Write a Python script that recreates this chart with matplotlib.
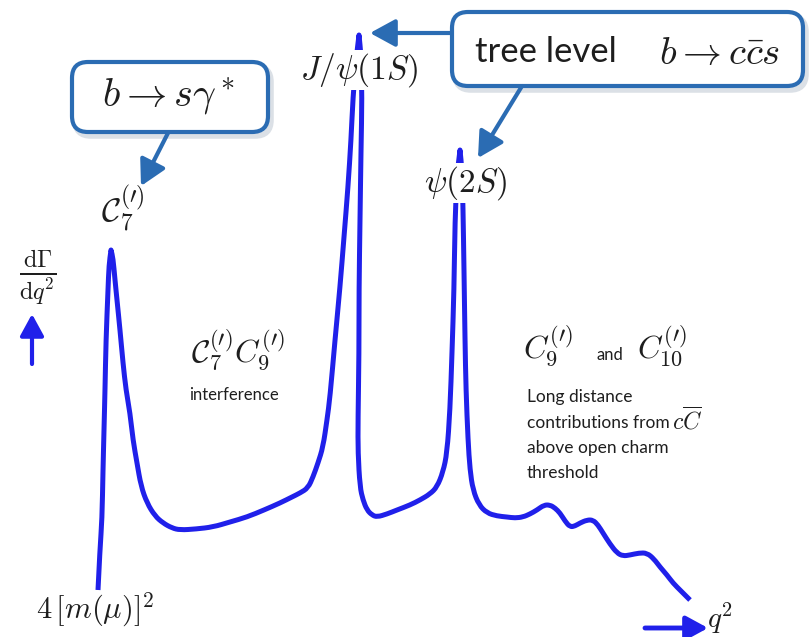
import matplotlib
matplotlib.use("Agg")
import matplotlib.pyplot as plt
from matplotlib.patches import FancyBboxPatch, PathPatch
from matplotlib.path import Path

plt.rcParams['mathtext.fontset'] = 'cm'
plt.rcParams['font.family'] = ['Lato', 'DejaVu Sans']

# sketch of dGamma/dq^2 traced as (q2, rate) points in canvas units
q2 = [98, 100, 102, 103, 104, 105, 106, 108, 109, 111, 111,
      113, 115, 117, 120, 123, 126, 130, 133, 137, 141, 147, 155, 163, 172, 180,
      196, 213, 230, 247, 264, 280, 292, 300, 308, 313, 318, 323, 327, 330, 335,
      340, 344, 348, 351, 353, 356, 359, 359,
      361, 362, 361, 360, 359, 359, 358, 358, 360, 363, 367, 372, 377, 387, 397,
      410, 420, 430, 437, 443, 447, 450, 452, 454, 455, 457, 460, 460,
      462, 463, 464, 465, 466, 468, 470, 473, 479, 487, 497, 507, 515, 523, 530,
      537, 544, 550, 555, 560, 565, 570, 575, 580, 587, 593, 598, 603, 610, 617,
      623, 630, 639, 647, 654, 660, 667, 673, 681, 690]
rate = [590, 548, 520, 470, 430, 390, 340, 290, 265, 250, 250,
        258, 280, 300, 330, 363, 390, 413, 440, 463, 486, 503, 516, 523, 528, 530,
        529, 527, 522, 517, 510, 503, 497, 493, 488, 477, 463, 447, 420, 397, 340,
        287, 237, 187, 140, 97, 60, 35, 35,
        55, 97, 150, 220, 290, 353, 420, 453, 487, 500, 510, 515, 517, 514, 510,
        505, 500, 494, 487, 472, 453, 410, 353, 290, 220, 175, 150, 150,
        170, 207, 270, 340, 390, 440, 470, 490, 505, 513, 516, 517, 518, 517, 514,
        510, 505, 505, 508, 513, 521, 527, 526, 523, 520, 520, 525, 533, 544, 553,
        556, 555, 553, 553, 559, 567, 575, 583, 591, 600]

curve_blue = '#2020ea'
box_blue = '#2b6cb3'
ink = '#1e1e1e'

fig = plt.figure(figsize=(8.1, 6.37), dpi=100)
ax = fig.add_axes([0, 0, 1, 1])
ax.set_xlim(0, 810)
ax.set_ylim(637, 0)
ax.axis('off')

# smooth hand-drawn look: traced points act as quadratic Bezier controls
pts = list(zip(q2, rate))
verts = [pts[0]]
codes = [Path.MOVETO]
for i in range(1, len(pts) - 1):
    mid = ((pts[i][0] + pts[i + 1][0]) / 2, (pts[i][1] + pts[i + 1][1]) / 2)
    verts += [pts[i], mid]
    codes += [Path.CURVE3, Path.CURVE3]
verts.append(pts[-1])
codes.append(Path.LINETO)
ax.add_patch(PathPatch(Path(verts, codes), fc='none', ec=curve_blue, lw=3.6,
                       joinstyle='round', capstyle='butt', zorder=2))


def callout(x, y, w, h):
    shadow = FancyBboxPatch((x + 3, y + 4), w, h,
                            boxstyle='round,pad=0,rounding_size=16',
                            fc='none', ec='#c3ccd6', lw=4, alpha=0.6, zorder=3)
    ax.add_patch(shadow)
    box = FancyBboxPatch((x, y), w, h, boxstyle='round,pad=0,rounding_size=16',
                         fc='white', ec=box_blue, lw=3, zorder=4)
    ax.add_patch(box)


def pointer(x0, y0, x1, y1, color=box_blue, lw=3, head=14):
    ax.annotate('', xy=(x1, y1), xytext=(x0, y0),
                arrowprops=dict(arrowstyle='-|>,head_length=1.1,head_width=0.6',
                                color=color, lw=lw, shrinkA=0, shrinkB=0,
                                mutation_scale=head),
                zorder=5)


# callout boxes and their arrows
callout(72, 62, 196, 70)
ax.text(169, 97, r'$b \rightarrow s\gamma^*$', fontsize=29, color=ink,
        ha='center', va='center', zorder=6)
pointer(168, 133, 141, 186)

callout(452, 12, 351, 74)
ax.text(546, 52, 'tree level', fontsize=25, color=ink,
        ha='center', va='center', zorder=6)
ax.text(720, 53, r'$b \rightarrow c\bar{c}s$', fontsize=28, color=ink,
        ha='center', va='center', zorder=6)
pointer(452, 33, 370, 33)
pointer(522, 86, 478, 158)

# resonance labels sit on top of the curve
label_box = dict(fc='white', ec='none', pad=1)
ax.text(123, 208, r'$\mathcal{C}_7^{(\prime)}$', fontsize=24, color=ink,
        ha='center', va='center', zorder=6)
ax.text(359, 70, r'$J/\psi(1S)$', fontsize=24, color=ink,
        ha='center', va='center', bbox=label_box, zorder=6)
ax.text(466, 183, r'$\psi(2S)$', fontsize=24, color=ink,
        ha='center', va='center', bbox=label_box, zorder=6)

# axis hints
ax.text(38, 277, r'$\frac{\mathrm{d}\Gamma}{\mathrm{d}q^2}$', fontsize=25,
        color=ink, ha='center', va='center')
pointer(32, 364, 32, 314, color=curve_blue, lw=3, head=12)
pointer(645, 628, 708, 628, color=curve_blue, lw=3.5, head=12)
ax.text(707, 618, r'$q^2$', fontsize=21, color=ink, ha='left', va='center')
ax.text(95, 610, r'$4\,[m(\mu)]^2$', fontsize=22, color=ink,
        ha='center', va='center')

# region annotations
ax.text(238, 350, r'$\mathcal{C}_7^{(\prime)}C_9^{(\prime)}$', fontsize=23,
        color=ink, ha='center', va='center')
ax.text(234, 395, 'interference', fontsize=12, color=ink,
        ha='center', va='center')

ax.text(548, 346, r'$C_9^{(\prime)}$', fontsize=23, color=ink,
        ha='center', va='center')
ax.text(610, 355, 'and', fontsize=12, color=ink, ha='center', va='center')
ax.text(662, 346, r'$C_{10}^{(\prime)}$', fontsize=23, color=ink,
        ha='center', va='center')
ax.text(527, 397, 'Long distance', fontsize=12.5, color=ink,
        ha='left', va='center')
ax.text(527, 423, 'contributions from', fontsize=12.5, color=ink,
        ha='left', va='center')
ax.text(672, 420, r'$c\overline{C}$', fontsize=17, color=ink,
        ha='left', va='center')
ax.text(527, 448, 'above open charm', fontsize=12.5, color=ink,
        ha='left', va='center')
ax.text(527, 473, 'threshold', fontsize=12.5, color=ink,
        ha='left', va='center')

fig.savefig('out.png', dpi=100)
